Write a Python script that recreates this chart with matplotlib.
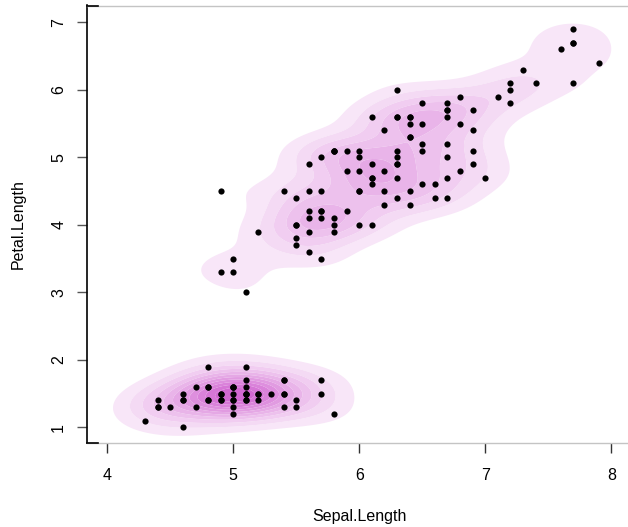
import numpy as np
import matplotlib
matplotlib.use("Agg")
import matplotlib.pyplot as plt
from matplotlib.colors import LinearSegmentedColormap

sepal_length = [
    5.1,4.9,4.7,4.6,5.0,5.4,4.6,5.0,4.4,4.9,5.4,4.8,4.8,4.3,5.8,5.7,5.4,5.1,5.7,5.1,
    5.4,5.1,4.6,5.1,4.8,5.0,5.0,5.2,5.2,4.7,4.8,5.4,5.2,5.5,4.9,5.0,5.5,4.9,4.4,5.1,
    5.0,4.5,4.4,5.0,5.1,4.8,5.1,4.6,5.3,5.0,
    7.0,6.4,6.9,5.5,6.5,5.7,6.3,4.9,6.6,5.2,5.0,5.9,6.0,6.1,5.6,6.7,5.6,5.8,6.2,5.6,
    5.9,6.1,6.3,6.1,6.4,6.6,6.8,6.7,6.0,5.7,5.5,5.5,5.8,6.0,5.4,6.0,6.7,6.3,5.6,5.5,
    5.5,6.1,5.8,5.0,5.6,5.7,5.7,6.2,5.1,5.7,
    6.3,5.8,7.1,6.3,6.5,7.6,4.9,7.3,6.7,7.2,6.5,6.4,6.8,5.7,5.8,6.4,6.5,7.7,7.7,6.0,
    6.9,5.6,7.7,6.3,6.7,7.2,6.2,6.1,6.4,7.2,7.4,7.9,6.4,6.3,6.1,7.7,6.3,6.4,6.0,6.9,
    6.7,6.9,5.8,6.8,6.7,6.7,6.3,6.5,6.2,5.9]
petal_length = [
    1.4,1.4,1.3,1.5,1.4,1.7,1.4,1.5,1.4,1.5,1.5,1.6,1.4,1.1,1.2,1.5,1.3,1.4,1.7,1.5,
    1.7,1.5,1.0,1.7,1.9,1.6,1.6,1.5,1.4,1.6,1.6,1.5,1.5,1.4,1.5,1.2,1.3,1.4,1.3,1.5,
    1.3,1.3,1.3,1.6,1.9,1.4,1.6,1.4,1.5,1.4,
    4.7,4.5,4.9,4.0,4.6,4.5,4.7,3.3,4.6,3.9,3.5,4.2,4.0,4.7,3.6,4.4,4.5,4.1,4.5,3.9,
    4.8,4.0,4.9,4.7,4.3,4.4,4.8,5.0,4.5,3.5,3.8,3.7,3.9,5.1,4.5,4.5,4.7,4.4,4.1,4.0,
    4.4,4.6,4.0,3.3,4.2,4.2,4.2,4.3,3.0,4.1,
    6.0,5.1,5.9,5.6,5.8,6.6,4.5,6.3,5.8,6.1,5.1,5.3,5.5,5.0,5.1,5.3,5.5,6.7,6.9,5.0,
    5.7,4.9,6.7,4.9,5.7,6.0,4.8,4.9,5.6,5.8,6.1,6.4,5.6,5.1,5.6,6.1,5.6,5.5,4.8,5.4,
    5.6,5.1,5.1,5.9,5.7,5.2,5.0,5.2,5.4,5.1]
x_ticks = [4, 5, 6, 7, 8]
y_ticks = [1, 2, 3, 4, 5, 6, 7]

x = np.array(sepal_length)
y = np.array(petal_length)

W, H = 628, 527
fig = plt.figure(figsize=(W/100, H/100), dpi=100)
ax = fig.add_axes([87/W, (H-443)/H, (W-87)/W, (443-5.5)/H])
xlim = (4 - (107.3-87)/126, 4 + (628-107.3)/126)
ylim = (1 - (443-427.3)/67.5, 7 + (22.3-5.5)/67.5)
ax.set_xlim(*xlim)
ax.set_ylim(*ylim)

# 2D kernel density
sx, sy = 0.25, 0.21
gx = np.linspace(xlim[0], xlim[1], 300)
gy = np.linspace(ylim[0], ylim[1], 300)
GX, GY = np.meshgrid(gx, gy)
Z = np.zeros_like(GX)
for xi, yi in zip(x, y):
    Z += np.exp(-0.5*((GX-xi)/sx)**2 - 0.5*((GY-yi)/sy)**2)
Z /= (len(x) * 2*np.pi*sx*sy)
zmax = Z.max()
levels = np.linspace(0.08, 1.0, 12) * zmax
levels[-1] = zmax * 1.01
cmap = LinearSegmentedColormap.from_list("pk", ["#FAECFA", "#D062D0"])
ax.contourf(GX, GY, Z, levels=levels, cmap=cmap, antialiased=True, zorder=1)

ax.scatter(x, y, s=20, color="black", zorder=3, linewidths=0)

for side in ["right"]:
    ax.spines[side].set_visible(False)
ax.spines["left"].set_color("black")
ax.spines["left"].set_linewidth(1.2)
for side in ["top", "bottom"]:
    ax.spines[side].set_color("#C4C4C4")
    ax.spines[side].set_linewidth(1.0)
# black corner stubs
ax.plot([0, 11/541], [0, 0], transform=ax.transAxes, color="black", lw=1.2, clip_on=False, zorder=4)
ax.plot([0, 11/541], [1, 1], transform=ax.transAxes, color="black", lw=1.2, clip_on=False, zorder=4)

ax.set_xticks(x_ticks)
ax.set_yticks(y_ticks)
ax.set_yticklabels([str(v) for v in y_ticks], rotation=90, va="center")
ax.tick_params(axis="x", length=7, width=1, color="#333333", pad=11, labelsize=11.5)
ax.tick_params(axis="y", length=7, width=1, color="#555555", pad=8, labelsize=11.5)
for lab in ax.get_xticklabels() + ax.get_yticklabels():
    lab.set_fontfamily("Liberation Sans")

fig.text(359/W, 1-517/H, "Sepal.Length", ha="center", va="center", fontsize=11.5, family="Liberation Sans")
fig.text(18/W, 1-(224)/H, "Petal.Length", ha="center", va="center", rotation=90, fontsize=11.5, family="Liberation Sans")

fig.savefig("out.png", dpi=100)
